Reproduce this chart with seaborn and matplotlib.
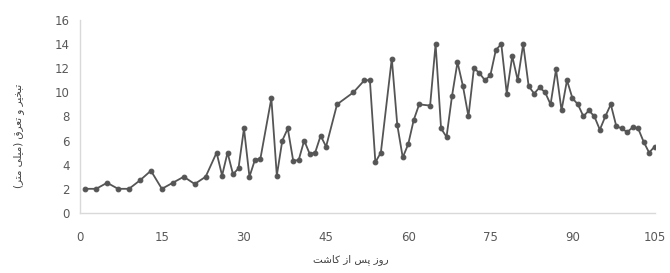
import matplotlib
matplotlib.use("Agg")
import matplotlib.pyplot as plt
import seaborn as sns
import pandas as pd

# ---- data ----
days = [1, 3, 5, 7, 9, 11, 13, 15, 17, 19, 21, 23,
        25, 26, 27, 28, 29, 30, 31, 32, 33, 35, 36, 37, 38, 39, 40,
        41, 42, 43, 44, 45, 47, 50, 52, 53, 54, 55, 57, 58, 59, 60,
        61, 62, 64, 65, 66, 67, 68, 69, 70, 71, 72, 73, 74, 75, 76,
        77, 78, 79, 80, 81, 82, 83, 84, 85, 86, 87, 88, 89, 90, 91,
        92, 93, 94, 95, 96, 97, 98, 99, 100, 101, 102, 103, 104, 105]
et_mm = [2.0, 2.0, 2.5, 2.0, 2.0, 2.7, 3.5, 2.0, 2.5, 3.0, 2.4, 3.0,
         5.0, 3.1, 5.0, 3.2, 3.7, 7.0, 3.0, 4.4, 4.5, 9.5, 3.1, 6.0, 7.0, 4.3, 4.4,
         6.0, 4.9, 5.0, 6.4, 5.5, 9.0, 10.0, 11.0, 11.0, 4.2, 5.0, 12.8, 7.3, 4.6, 5.7,
         7.7, 9.0, 8.9, 14.0, 7.0, 6.3, 9.7, 12.5, 10.5, 8.0, 12.0, 11.6, 11.0, 11.4, 13.5,
         14.0, 9.9, 13.0, 11.0, 14.0, 10.5, 9.9, 10.4, 10.0, 9.0, 11.9, 8.5, 11.0, 9.5, 9.0,
         8.0, 8.5, 8.0, 6.9, 8.0, 9.0, 7.2, 7.0, 6.7, 7.1, 7.0, 5.9, 5.0, 5.5]
x_ticks = [0, 15, 30, 45, 60, 75, 90, 105]
y_ticks = [0, 2, 4, 6, 8, 10, 12, 14, 16]
x_label = "روز پس از کاشت"
y_label = "تبخیر و تعرق (میلی متر)"

# ---- minimal Persian shaping (presentation forms + visual order) ----
FORMS = {  # iso, fin, ini, med ; None for ini/med -> right-joining only
    'ا': (0xFE8D, 0xFE8E, None, None),
    'ب': (0xFE8F, 0xFE90, 0xFE91, 0xFE92),
    'پ': (0xFB56, 0xFB57, 0xFB58, 0xFB59),
    'ت': (0xFE95, 0xFE96, 0xFE97, 0xFE98),
    'خ': (0xFEA5, 0xFEA6, 0xFEA7, 0xFEA8),
    'ر': (0xFEAD, 0xFEAE, None, None),
    'ز': (0xFEAF, 0xFEB0, None, None),
    'س': (0xFEB1, 0xFEB2, 0xFEB3, 0xFEB4),
    'ش': (0xFEB5, 0xFEB6, 0xFEB7, 0xFEB8),
    'ع': (0xFEC9, 0xFECA, 0xFECB, 0xFECC),
    'ق': (0xFED5, 0xFED6, 0xFED7, 0xFED8),
    'ک': (0xFB8E, 0xFB8F, 0xFB90, 0xFB91),
    'ل': (0xFEDD, 0xFEDE, 0xFEDF, 0xFEE0),
    'م': (0xFEE1, 0xFEE2, 0xFEE3, 0xFEE4),
    'و': (0xFEED, 0xFEEE, None, None),
    'ی': (0xFBFC, 0xFBFD, 0xFBFE, 0xFBFF),
}
MIRROR = {'(': ')', ')': '('}


def shape(text):
    out = []
    n = len(text)
    for i, ch in enumerate(text):
        if ch not in FORMS:
            out.append(MIRROR.get(ch, ch))
            continue
        iso, fin, ini, med = FORMS[ch]
        prev = text[i - 1] if i > 0 else None
        nxt = text[i + 1] if i + 1 < n else None
        join_prev = prev in FORMS and FORMS[prev][2] is not None
        join_next = nxt in FORMS and ini is not None
        if join_prev and join_next:
            cp = med
        elif join_prev:
            cp = fin
        elif join_next:
            cp = ini
        else:
            cp = iso
        out.append(chr(cp))
    return ''.join(reversed(out))


df = pd.DataFrame({"day": days, "et": et_mm})

sns.set_theme(style="white")
plt.rcParams['font.family'] = ['DejaVu Sans']

fig = plt.figure(figsize=(6.7, 2.73), dpi=100)
ax = fig.add_axes([0.119, 0.22, 0.858, 0.707])

sns.lineplot(data=df, x="day", y="et", ax=ax, color="#555555",
             linewidth=1.3, marker="o", markersize=3.4,
             markeredgecolor="#555555", markerfacecolor="#555555")

ax.set_xlim(0, 105)
ax.set_ylim(0, 16)
ax.set_xticks(x_ticks)
ax.set_yticks(y_ticks)
ax.tick_params(axis='both', length=0, labelsize=8.5, colors="#595959")
ax.tick_params(axis='x', pad=13)
ax.tick_params(axis='y', pad=7)
for s in ["top", "right"]:
    ax.spines[s].set_visible(False)
for s in ["left", "bottom"]:
    ax.spines[s].set_color("#d9d9d9")
    ax.spines[s].set_linewidth(1.0)
ax.grid(False)

ax.set_xlabel(shape(x_label), fontsize=7.5, color="#404040")
ax.set_ylabel(shape(y_label), fontsize=7.5, color="#404040")
ax.xaxis.set_label_coords(0.471, -0.215)
ax.yaxis.set_label_coords(-0.097, 0.40)

fig.savefig("out.png", dpi=100, facecolor="white")
